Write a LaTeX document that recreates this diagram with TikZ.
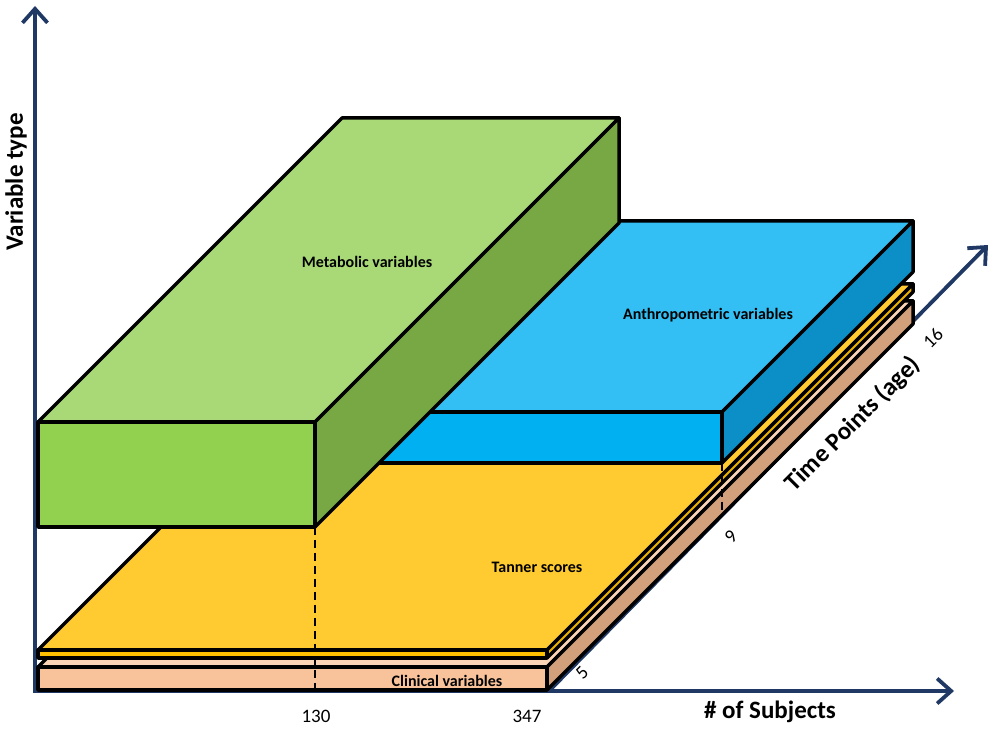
\documentclass[tikz,border=0pt]{standalone}
\usepackage{fontspec}
\setmainfont{Carlito}
\usetikzlibrary{arrows.meta}

\definecolor{axisBlue}{HTML}{203864}
\definecolor{metTop}{HTML}{A9D977}
\definecolor{metFront}{HTML}{92D050}
\definecolor{metSide}{HTML}{77A843}
\definecolor{antTop}{HTML}{33BFF3}
\definecolor{antFront}{HTML}{00B0F0}
\definecolor{antSide}{HTML}{0B8FC6}
\definecolor{tanTop}{HTML}{FFCB30}
\definecolor{tanFront}{HTML}{FFC000}
\definecolor{tanSide}{HTML}{E8B000}
\definecolor{cliTop}{HTML}{FBD5B5}
\definecolor{cliFront}{HTML}{F8C39A}
\definecolor{cliSide}{HTML}{D3A07C}

% x0 x1 y0 y1 z0 z1 colour
\newcommand{\drawSlab}[7]{%
  \filldraw[boxN,fill=#7Top] (#1,#4,#5) -- (#2,#4,#5) -- (#2,#4,#6) -- (#1,#4,#6) -- cycle;
  \filldraw[boxN,fill=#7Front] (#1,#3,#5) -- (#2,#3,#5) -- (#2,#4,#5) -- (#1,#4,#5) -- cycle;
  \filldraw[boxN,fill=#7Side] (#2,#3,#5) -- (#2,#3,#6) -- (#2,#4,#6) -- (#2,#4,#5) -- cycle;
}

\begin{document}
\begin{tikzpicture}
  [x=1pt,y=1pt,
   boxN/.style={draw=black,line width=3.5pt,line join=round},
   axisN/.style={draw=axisBlue,line width=3.8pt,
     -{Straight Barb[length=14pt,width=25pt,line width=3.8pt]}},
   dashN/.style={draw=black,line width=2.8pt,dash pattern=on 8pt off 5pt},
   axisL/.style={font=\fontsize{25}{30}\selectfont\bfseries,inner sep=0pt},
   tickL/.style={font=\fontsize{19}{22}\selectfont,inner sep=0pt},
   slabL/.style={font=\fontsize{16}{19}\selectfont\bfseries,inner sep=0pt},
  ]
  \useasboundingbox (0,0) rectangle (1000,730);

  % axes
  \coordinate (origin) at (35,37);
  \coordinate (yTip) at (35,724);
  \coordinate (xStart) at (34,39);
  \coordinate (xTip) at (954,39);
  \coordinate (zStart) at (549,39);
  \coordinate (zTip) at (988,485);
  \draw[axisN] (origin) -- (yTip);
  \draw[axisN] (xStart) -- (xTip);
  \draw[axisN] (zStart) -- (zTip);

  % slabs, back to front
  \begin{scope}[shift={(38,40)},z={(1pt,1pt)}]
    \drawSlab{0}{509}{0}{23}{0}{366}{cli}
    \drawSlab{0}{509}{32}{40}{0}{366}{tan}
    \drawSlab{0}{509}{52}{103}{175}{366}{ant}
    \drawSlab{0}{277}{163}{268}{0}{304}{met}

    \coordinate (metFoot) at (277,163,0);
    \coordinate (metBase) at (277,0,0);
    \coordinate (antFoot) at (509,52,175);
    \coordinate (antBase) at (509,0,175);
  \end{scope}
  \draw[dashN] (metFoot) -- (metBase);
  \draw[dashN] (antFoot) -- (antBase);

  % labels
  \node[slabL] (metLbl) at (367,468) {Metabolic variables};
  \node[slabL] (antLbl) at (708,415) {Anthropometric variables};
  \node[slabL] (tanLbl) at (537,163) {Tanner scores};
  \node[slabL] (cliLbl) at (447,49) {Clinical variables};

  \node[axisL,rotate=90] (varType) at (16,548) {Variable type};
  \node[axisL] (subjLbl) at (770,18) {\# of Subjects};
  \node[axisL,rotate=45] (timeLbl) at (853,306) {Time Points (age)};

  \node[tickL] (t130) at (316,14) {130};
  \node[tickL] (t347) at (527,14) {347};
  \node[tickL,rotate=45] (t5) at (582,57) {5};
  \node[tickL,rotate=45] (t9) at (731,193) {9};
  \node[tickL,rotate=45] (t16) at (933,392) {16};
\end{tikzpicture}
\end{document}
